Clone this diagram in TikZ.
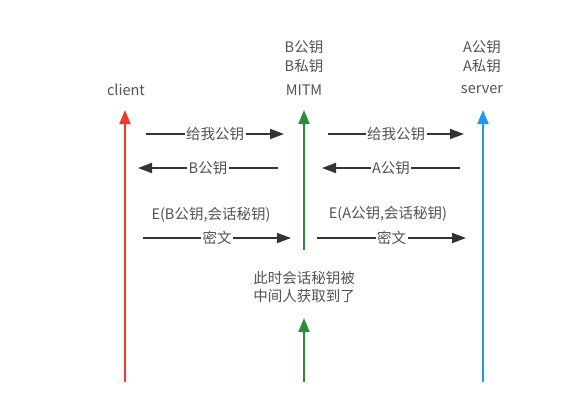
\documentclass[tikz,border=0pt]{standalone}
\usepackage{fontspec}
\setmainfont{Noto Sans CJK SC}
\usetikzlibrary{arrows.meta}

\definecolor{clientred}{HTML}{F03A2E}
\definecolor{mitmgreen}{HTML}{2E8B35}
\definecolor{serverblue}{HTML}{2196F3}
\definecolor{msggray}{HTML}{333333}

\begin{document}
\begin{tikzpicture}[x=1pt, y=-1pt,
    every node/.style={text=msggray!85, font=\fontsize{14.5}{18}\selectfont, inner sep=1pt},
    life/.style={line width=2pt, -{Triangle[length=14pt, width=11pt]}},
    msg/.style={line width=1.8pt, draw=msggray, -{Triangle[length=14pt, width=10pt]}},
    onmsg/.style={fill=white, inner sep=1.5pt}]

    \useasboundingbox (0,0) rectangle (580,410);

    % Titles
    \node (client) at (126,90) {client};
    \node (mitm) at (304,90) {MITM};
    \node (server) at (482,90) {server};

    % Keys held
    \node (mpub) at (304,47) {B公钥};
    \node (mpriv) at (304,66) {B私钥};
    \node (spub) at (482,47) {A公钥};
    \node (spriv) at (482,66) {A私钥};

    % Lifelines
    \coordinate (c0) at (125,382);
    \coordinate (c1) at (125,110);
    \coordinate (m0) at (304,250);
    \coordinate (m1) at (304,110);
    \coordinate (n0) at (304,382);
    \coordinate (n1) at (304,318);
    \coordinate (s0) at (483,382);
    \coordinate (s1) at (483,110);
    \draw[life, draw=clientred, color=clientred] (c0) -- (c1);
    \draw[life, draw=mitmgreen, color=mitmgreen] (m0) -- (m1);
    \draw[life, draw=mitmgreen, color=mitmgreen] (n0) -- (n1);
    \draw[life, draw=serverblue, color=serverblue] (s0) -- (s1);

    % Ask for public key
    \coordinate (a1) at (146,134);
    \coordinate (a2) at (284,134);
    \coordinate (a3) at (328,134);
    \coordinate (a4) at (464,134);
    \draw[msg, color=msggray] (a1) -- node[onmsg] (ask1) {给我公钥} (a2);
    \draw[msg, color=msggray] (a3) -- node[onmsg] (ask2) {给我公钥} (a4);

    % Public keys returned
    \coordinate (b1) at (278,168);
    \coordinate (b2) at (138,168);
    \coordinate (b3) at (460,168);
    \coordinate (b4) at (322,168);
    \draw[msg, color=msggray] (b1) -- node[onmsg] (key1) {B公钥} (b2);
    \draw[msg, color=msggray] (b3) -- node[onmsg] (key2) {A公钥} (b4);

    % Encrypted session key
    \node (enc1) at (211,215) {E(B公钥,会话秘钥)};
    \node (enc2) at (388,214) {E(A公钥,会话秘钥)};
    \coordinate (e1) at (143,238);
    \coordinate (e2) at (291,238);
    \coordinate (e3) at (317,238);
    \coordinate (e4) at (466,238);
    \draw[msg, color=msggray] (e1) -- node[onmsg] (ct1) {密文} (e2);
    \draw[msg, color=msggray] (e3) -- node[onmsg] (ct2) {密文} (e4);

    % Note
    \node[align=center] (note) at (304,287) {此时会话秘钥被\\中间人获取到了};

\end{tikzpicture}
\end{document}
